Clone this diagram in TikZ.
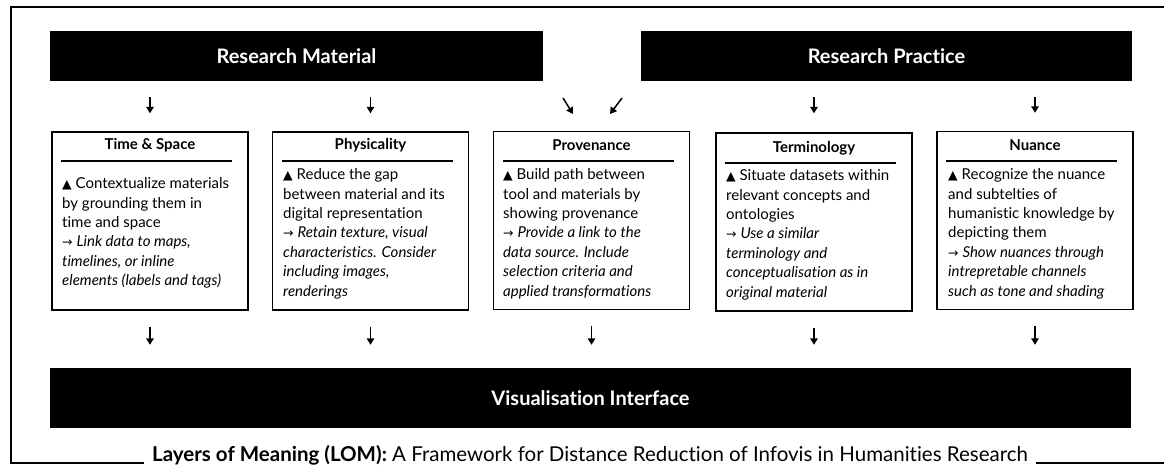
\documentclass[tikz,border=0pt]{standalone}
\usepackage{fontspec}
\setmainfont{Lato}[RawFeature={-liga;-dlig}]
\newfontfamily\sym{DejaVu Sans}
\usetikzlibrary{arrows.meta}
\newcommand{\tri}{{\sym\fontsize{12.5}{12}\selectfont ▲}}
\newcommand{\ra}{{\sym\fontsize{12.5}{9}\selectfont →}}
\begin{document}
\begin{tikzpicture}[x=1pt,y=-1pt,
  bar/.style={fill=black, draw=none, text=white, inner sep=0pt, font=\bfseries\fontsize{20}{22}\selectfont},
  card/.style={draw=black, line width=1.4pt, inner sep=0pt, minimum width=196pt, minimum height=178pt},
  ttl/.style={font=\bfseries\fontsize{15}{17}\selectfont, inner sep=0pt},
  body/.style={anchor=north west, inner sep=0pt, align=left, font=\fontsize{15}{19.4}\selectfont},
  rule/.style={line width=1.4pt},
  arr/.style={-{Triangle[length=6.5pt,width=7.5pt]}, line width=1.5pt},
  frame/.style={line width=2.2pt}
]
\useasboundingbox (0,0) rectangle (1164,470);

% bars
\node[bar, minimum width=493pt, minimum height=50pt] (rm) at (296.5,56) {Research Material};
\node[bar, minimum width=491pt, minimum height=50pt] (rp) at (886.5,56) {Research Practice};
\node[bar, minimum width=1081pt, minimum height=60pt] (vi) at (590.5,398) {Visualisation Interface};

% cards
\node[card] (b1) at (150,221) {};
\node[card] (b2) at (370.5,221) {};
\node[card] (b3) at (591.5,220.5) {};
\node[card] (b4) at (814,222) {};
\node[card] (b5) at (1035,220.5) {};

% titles
\node[ttl] (t1) at (150,145) {Time \& Space};
\node[ttl] (t2) at (370.5,145) {Physicality};
\node[ttl] (t3) at (591.5,145) {Provenance};
\node[ttl] (t4) at (814,148) {Terminology};
\node[ttl] (t5) at (1035,145) {Nuance};

% rules
\draw[rule] ([xshift=10pt]b1.west |- 0,161) -- ++(171,0);
\draw[rule] ([xshift=10pt]b2.west |- 0,161) -- ++(171,0);
\draw[rule] ([xshift=10pt]b3.west |- 0,161) -- ++(171,0);
\draw[rule] ([xshift=10pt]b4.west |- 0,163) -- ++(171,0);
\draw[rule] ([xshift=10pt]b5.west |- 0,161) -- ++(171,0);

% bodies
\node[body] (d1) at (62,177.5) {\tri{} Contextualize materials\\by grounding them in\\time and space\\\ra{} \textit{Link data to maps,}\\\textit{timelines, or inline}\\\textit{elements (labels and tags)}};
\node[body] (d2) at (283,168.5) {\tri{} Reduce the gap\\between material and its\\digital representation\\\ra{} \textit{Retain texture, visual}\\\textit{characteristics. Consider}\\\textit{including images,}\\\textit{renderings}};
\node[body] (d3) at (503,168.5) {\tri{} Build path between\\tool and materials by\\showing provenance\\\ra{} \textit{Provide a link to the}\\\textit{data source. Include}\\\textit{selection criteria and}\\\textit{applied transformations}};
\node[body] (d4) at (726,169.5) {\tri{} Situate datasets within\\relevant concepts and\\ontologies\\\ra{} \textit{Use a similar}\\\textit{terminology and}\\\textit{conceptualisation as in}\\\textit{original material}};
\node[body] (d5) at (948,168.5) {\tri{} Recognize the nuance\\and subtelties of\\humanistic knowledge by\\depicting them\\\ra{} \textit{Show nuances through}\\\textit{intrepretable channels}\\\textit{such as tone and shading}};

% top arrows
\draw[arr, shorten <=16pt, shorten >=18pt] (b1.north |- rm.south) -- (b1.north);
\draw[arr, shorten <=16pt, shorten >=18pt] (b2.north |- rm.south) -- (b2.north);
\draw[arr, shorten <=16pt, shorten >=19pt] (b4.north |- rp.south) -- (b4.north);
\draw[arr, shorten <=16pt, shorten >=18pt] (b5.north |- rp.south) -- (b5.north);
\coordinate (p1) at (563,98);
\coordinate (p2) at (573,114);
\coordinate (q1) at (622,98);
\coordinate (q2) at (610,114);
\draw[arr] (p1) -- (p2);
\draw[arr] (q1) -- (q2);

% bottom arrows
\foreach \b in {b1,b2,b3,b4,b5}
  \draw[arr, shorten <=16pt, shorten >=23pt] (\b.south) -- (\b.south |- vi.north);

% caption and frame
\node[inner xsep=8pt, inner ysep=0pt, font=\fontsize{20.5}{22}\selectfont, anchor=base] (cap) at (590,461) {\textbf{Layers of Meaning (LOM):} A Framework for Distance Reduction of Infovis in Humanities Research};
\draw[frame] (cap.west |- 0,463) -- (11,463) -- (11,7) -- (1166,7);
\draw[frame] (cap.east |- 0,463) -- (1166,463);
\end{tikzpicture}
\end{document}
